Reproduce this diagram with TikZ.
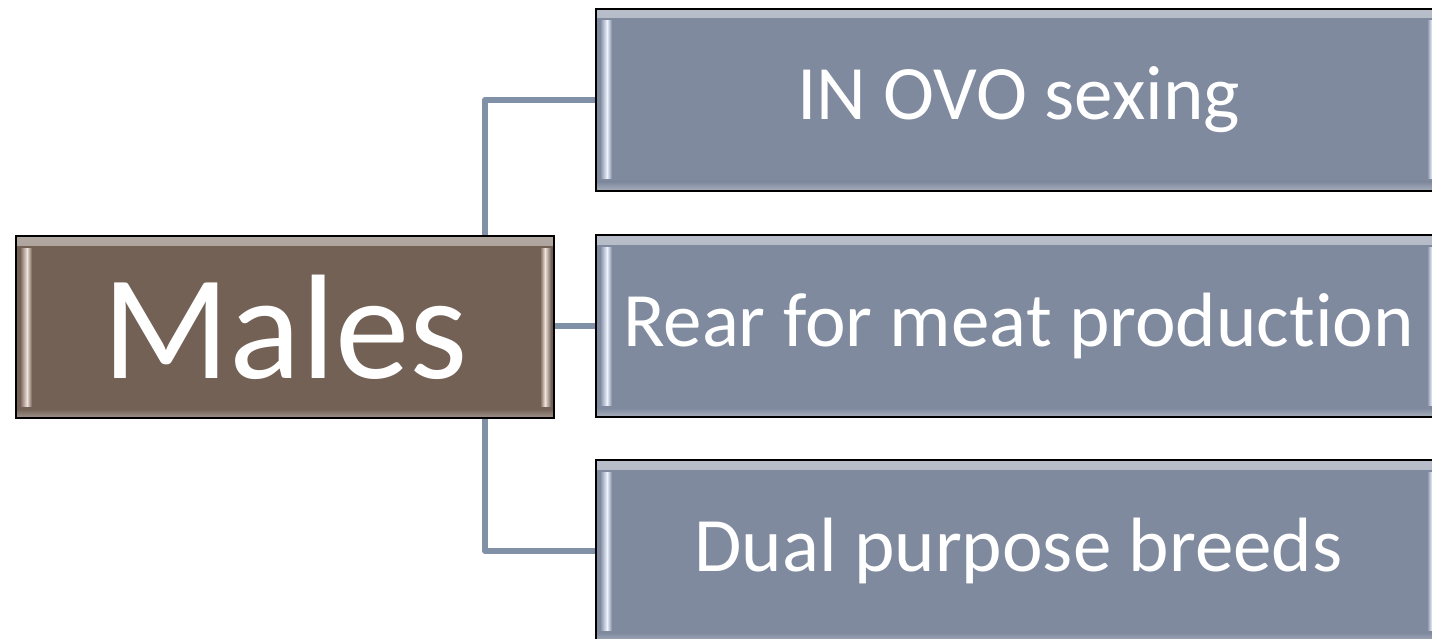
\documentclass[tikz,border=0pt]{standalone}
\usepackage{fontspec}
\usetikzlibrary{backgrounds}
\setmainfont{Carlito}[Ligatures=NoCommon]
\definecolor{brownbox}{HTML}{736156}
\definecolor{bluebox}{HTML}{7F8A9E}
\definecolor{connc}{HTML}{8090A6}
\definecolor{brownhi}{HTML}{F0E2DA}
\definecolor{bluehi}{HTML}{EEF4FF}
\tikzset{
  bevelbox/.style n args={2}{draw=black, line width=2pt, fill=#1, text=white,
    inner sep=0pt, anchor=north west,
    path picture={
      \shade[top color=white!45!#1, bottom color=#1]
        ([xshift=1pt,yshift=-1pt]path picture bounding box.north west) rectangle
        ([xshift=-1pt,yshift=-9pt]path picture bounding box.north east);
      \shade[top color=#1, bottom color=white!30!#1]
        ([xshift=1pt,yshift=9pt]path picture bounding box.south west) rectangle
        ([xshift=-1pt,yshift=1pt]path picture bounding box.south east);
      \shade[left color=#1, right color=#2]
        ([xshift=4pt,yshift=-12pt]path picture bounding box.north west) rectangle
        ([xshift=11pt,yshift=12pt]path picture bounding box.south west);
      \shade[left color=#2, right color=#1]
        ([xshift=11pt,yshift=-12pt]path picture bounding box.north west) rectangle
        ([xshift=16pt,yshift=12pt]path picture bounding box.south west);
      \shade[left color=#1, right color=#2]
        ([xshift=-14pt,yshift=-12pt]path picture bounding box.north east) rectangle
        ([xshift=-9pt,yshift=12pt]path picture bounding box.south east);
      \shade[left color=#2, right color=#1!80!black]
        ([xshift=-9pt,yshift=-12pt]path picture bounding box.north east) rectangle
        ([xshift=-2pt,yshift=12pt]path picture bounding box.south east);
    }},
  conn/.style={draw=connc, line width=6pt, line join=round}
}
\begin{document}
\begin{tikzpicture}[x=1pt,y=-1pt]
\useasboundingbox (0,0) rectangle (1432,639);
\clip (0,0) rectangle (1432,639);
\coordinate (trunk) at (485,326);
\node[bevelbox={brownbox}{brownhi}, minimum width=538pt, minimum height=182pt,
  font=\fontsize{149}{150}\selectfont] (males) at (15,235) {Males};
\node[bevelbox={bluebox}{bluehi}, minimum width=845pt, minimum height=182pt,
  font=\fontsize{77}{80}\selectfont] (ovo) at (595,8) {IN OVO sexing};
\node[bevelbox={bluebox}{bluehi}, minimum width=845pt, minimum height=182pt,
  font=\fontsize{77}{80}\selectfont] (meat) at (595,234) {Rear for meat production};
\node[bevelbox={bluebox}{bluehi}, minimum width=845pt, minimum height=182pt,
  font=\fontsize{77}{80}\selectfont] (dual) at (595,459) {Dual purpose breeds};
\begin{scope}[on background layer]
\fill[white] (0,0) rectangle (1432,639);
\draw[conn] (ovo.west) -| (trunk);
\draw[conn] (dual.west) -| (trunk);
\draw[conn] (meat.west) -- (meat.west -| males.east);
\end{scope}
\end{tikzpicture}
\end{document}
